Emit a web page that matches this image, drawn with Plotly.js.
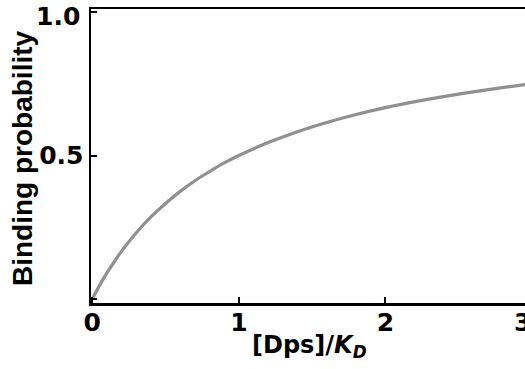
<!DOCTYPE html>
<html>
<head>
<meta charset="utf-8">
<script src="https://cdn.plot.ly/plotly-3.0.1.min.js"></script>
<style>
html,body{margin:0;padding:0;overflow:hidden;background:#fff;}
#chart{width:560px;height:369px;}
</style>
</head>
<body>
<div id="chart"></div>
<script>
// [Dps]/K_D values
const ratio = [0, 0.05, 0.1, 0.15, 0.2, 0.3, 0.4, 0.5, 0.6, 0.7, 0.8, 0.9, 1.0, 1.2, 1.4, 1.6, 1.8, 2.0, 2.25, 2.5, 2.75, 3.0, 3.2];
// Binding probability
const prob = [0, 0.048, 0.091, 0.13, 0.167, 0.231, 0.286, 0.333, 0.375, 0.412, 0.444, 0.474, 0.5, 0.545, 0.583, 0.615, 0.643, 0.667, 0.692, 0.714, 0.733, 0.75, 0.762];
const xTickVals = [0, 1, 2];
const xTickText = ["0", "1", "2"];
const xEdgeLabel = "3";          // last x label, partly cut by the right edge
const yTickVals = [0, 0.5, 1.0];
const yTickText = ["", "0.5", ""];
const yTopLabel = "1.0";         // top y label, nudged below the top edge
const xTitle = "[Dps]/<i>K<sub>D</sub></i>";
const yTitle = "Binding probability";

const tickFamily = "'DejaVu Sans', sans-serif";
const titleFamily = "Arial, 'Liberation Sans', sans-serif";
const tickFont = {family: tickFamily, size: 25, color: "#000", weight: "bold"};

Plotly.newPlot("chart", [{
  x: ratio, y: prob, type: "scatter", mode: "lines",
  line: {color: "#8e9092", width: 3.2, shape: "spline"},
  hoverinfo: "skip"
}], {
  width: 560, height: 369,
  margin: {l: 91, r: 0, t: 9, b: 66},
  paper_bgcolor: "#fff", plot_bgcolor: "#fff",
  showlegend: false,
  xaxis: {
    range: [-0.009, 3.192],
    tickvals: xTickVals, ticktext: xTickText,
    ticks: "inside", ticklen: 6, tickwidth: 2, tickcolor: "#000",
    showline: true, linecolor: "#000", linewidth: 2.5, mirror: true,
    showgrid: false, zeroline: false,
    ticklabeloverflow: "allow", ticklabelstandoff: -5,
    tickfont: tickFont
  },
  yaxis: {
    range: [-0.0139, 1.0105],
    tickvals: yTickVals, ticktext: yTickText,
    ticks: "inside", ticklen: 6, tickwidth: 2, tickcolor: "#000",
    showline: true, linecolor: "#000", linewidth: 2.5, mirror: true,
    showgrid: false, zeroline: false,
    ticklabeloverflow: "allow",
    tickfont: tickFont
  },
  annotations: [
    {text: yTopLabel, xref: "paper", x: 0, yref: "y", y: 1.0, xanchor: "right", yanchor: "middle",
     xshift: -9, yshift: -4, showarrow: false, font: tickFont},
    {text: xEdgeLabel, xref: "x", x: 2.935, yref: "paper", y: 0, xanchor: "center", yanchor: "middle",
     yshift: -19, showarrow: false, font: tickFont},
    {text: xTitle, xref: "x", x: 1.48, yref: "paper", y: 0, xanchor: "center", yanchor: "middle",
     yshift: -43, showarrow: false,
     font: {family: "'DejaVu Sans', sans-serif", size: 24, color: "#000", weight: "bold"}},
    {text: yTitle, xref: "paper", x: 0, yref: "paper", y: 0.5, xanchor: "center", yanchor: "middle",
     xshift: -69, yshift: -2, textangle: -90, showarrow: false,
     font: {family: titleFamily, size: 28, color: "#000", weight: "bold"}}
  ]
}, {displayModeBar: false, staticPlot: true});
</script>
</body>
</html>
